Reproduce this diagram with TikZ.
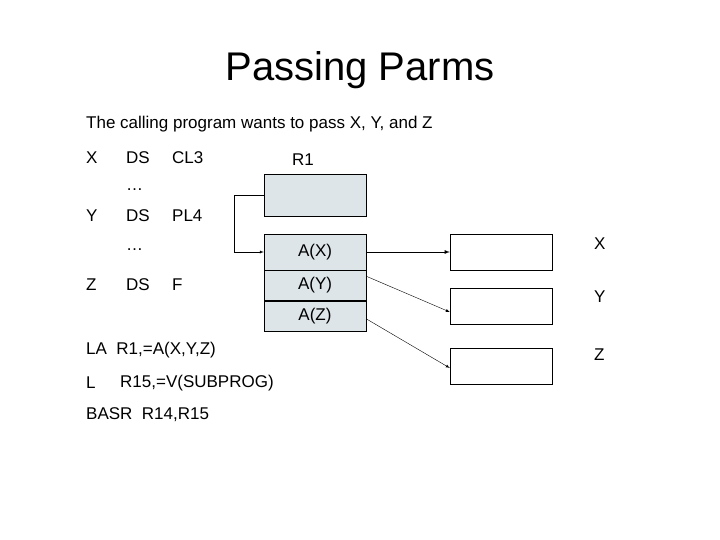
\documentclass[tikz,border=0pt]{standalone}
\usepackage{fontspec}
\setmainfont{Liberation Sans}
\usetikzlibrary{positioning}
\usetikzlibrary{arrows}

\tikzset{
  txt/.style={anchor=west, inner sep=0pt, font=\fontsize{17}{20}\selectfont},
  reg/.style={draw, fill=cyan!20!gray!25, minimum width=102pt, inner sep=0pt},
  mem/.style={draw, fill=white, minimum width=102pt, minimum height=36pt, inner sep=0pt},
  ptr/.style={->, >=latex, thin}
}

\begin{document}
\begin{tikzpicture}[x=1pt, y=-1pt]
\useasboundingbox (0,0) rectangle (720,540);

\node[font=\fontsize{40}{46}\selectfont] (title) at (360,70) {Passing Parms};
\node[txt] (intro) at (86,124) {The calling program wants to pass X, Y, and Z};

%Draw source lines
\foreach \y/\lab/\op/\arg in {158/X/DS/CL3, 216/Y/DS/PL4, 285/Z/DS/F} {
\node[txt] at (86,\y) {\lab};
\node[txt] at (126,\y) {\op};
\node[txt] at (172,\y) {\arg};
}
\node[txt] (dotsa) at (126,190) {\dots};
\node[txt] (dotsb) at (126,250) {\dots};

\node[txt] (la) at (86,350) {LA \ R1,=A(X,Y,Z)};
\node[txt] (l) at (86,383) {L};
\node[txt] (lop) at (120,383) {R15,=V(SUBPROG)};
\node[txt] (basr) at (86,415) {BASR \ R14,R15};

%Draw registers
\node[txt] (rname) at (292,160) {R1};
\node[reg, minimum height=42pt] (r1) at (315,195) {};
\node[reg, minimum height=36pt, font=\fontsize{17}{20}\selectfont] (ax) at (315,252) {A(X)};
\node[reg, minimum height=30pt, font=\fontsize{17}{20}\selectfont, below=0pt of ax] (ay) {A(Y)};
\node[reg, minimum height=30pt, font=\fontsize{17}{20}\selectfont, below=0pt of ay] (az) {A(Z)};

%Draw storage
\node[mem] (mx) at (501,252) {};
\node[mem] (my) at (501,306) {};
\node[mem] (mz) at (501,366) {};
\node[txt] (lx) at (594,244) {X};
\node[txt] (ly) at (594,297) {Y};
\node[txt] (lz) at (594,355) {Z};

\draw[ptr] (r1.west) -- ++(-30,0) |- (ax.west);
\draw[ptr, thick] (ax.east) -- (mx.west);
\draw[ptr] (ay.north east) ++(0,6) -- ([yshift=-6pt]my.west);
\draw[ptr] (az.east) ++(0,3) -- ([yshift=-2pt]mz.west);

\end{tikzpicture}
\end{document}
